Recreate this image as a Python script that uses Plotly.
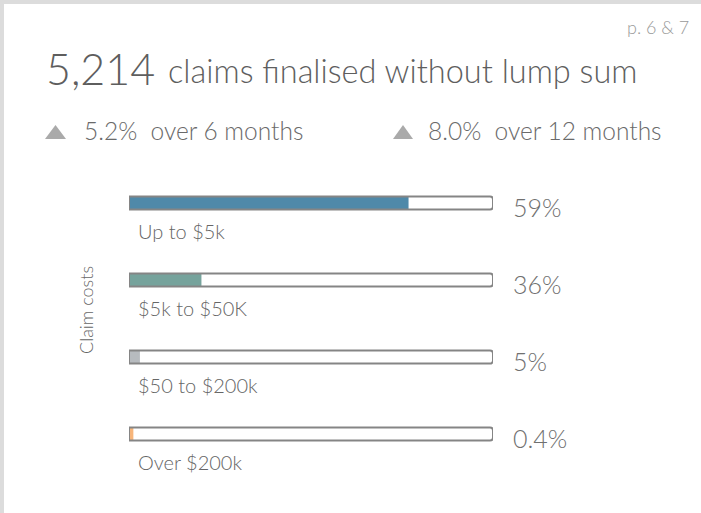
import plotly.graph_objects as go

W, H = 701, 513

# ---- data ----
categories = ["Up to $5k", "$5k to $50K", "$50 to $200k", "Over $200k"]
fill_share = [0.768, 0.199, 0.030, 0.012]   # bar fill as drawn
pct_labels = ["59%", "36%", "5%", "0.4%"]
bar_colors = ["#4f89a9", "#76a39c", "#b7bbbf", "#f7b57a"]
headline_value = "5,214"
headline_text = "claims finalised without lump sum"
change_labels = ["5.2%\u00a0\u00a0over 6 months", "8.0%\u00a0\u00a0over 12 months"]
page_ref = "p. 6 & 7"
axis_title = "Claim costs"

FONT = "Lato Light, Lato"
idx = list(range(len(categories)))


def px(x):
    return x / W


def py(y):
    return 1 - y / H


fig = go.Figure()
# coloured fills
fig.add_trace(go.Bar(
    y=idx, x=fill_share, orientation="h", width=0.17,
    marker=dict(color=bar_colors, line=dict(width=0)),
    hoverinfo="skip", showlegend=False,
))
# outlined tracks
fig.add_trace(go.Bar(
    y=idx, x=[1] * len(idx), orientation="h", width=0.17,
    marker=dict(color="rgba(0,0,0,0)", line=dict(color="#858585", width=2),
                cornerradius=3),
    hoverinfo="skip", showlegend=False,
))

# bar area in pixels
x0, x1 = 129, 493
yc0, yc3 = 203, 434
step = (yc3 - yc0) / 3
top = yc0 - step / 2
bot = yc3 + step / 2


def tri(xl, xr, yb, yt):
    xm = (xl + xr) / 2
    return (f"M {px(xl)} {py(yb)} L {px(xr)} {py(yb)} L {px(xm)} {py(yt)} Z")


shapes = [dict(type="rect", xref="paper", yref="paper", x0=px(4), x1=1.01, y0=-0.01, y1=py(4),
               fillcolor="white", line=dict(width=0), layer="below")]
for xl, xr in [(45, 66), (393, 413)]:
    shapes.append(dict(type="path", xref="paper", yref="paper", path=tri(xl, xr, 139, 125),
                       fillcolor="#aaaaaa", line=dict(width=0)))

fig.update_layout(
    width=W, height=H, margin=dict(l=0, r=0, t=0, b=0),
    paper_bgcolor="#dcdcdc", plot_bgcolor="rgba(0,0,0,0)",
    barmode="overlay",
    xaxis=dict(domain=[px(x0), px(x1)], range=[0, 1], visible=False, fixedrange=True),
    yaxis=dict(domain=[py(bot), py(top)], range=[3.5, -0.5], visible=False, fixedrange=True),
    font=dict(family=FONT, color="#666"),
    shapes=shapes,
)

ann = []
ann.append(dict(text=page_ref, x=px(691), y=py(27), xanchor="right", yanchor="middle",
                font=dict(size=18, color="#9a9a9a", weight=300)))
ann.append(dict(text=headline_value, x=px(44), y=py(68), xanchor="left", yanchor="middle",
                font=dict(size=43, color="#5e5e5e", weight=300)))
ann.append(dict(text=headline_text, x=px(166), y=py(71), xanchor="left", yanchor="middle",
                font=dict(size=32.5, color="#5e5e5e", weight=300)))
txt_x = [82, 426]
for lx, lab in zip(txt_x, change_labels):
    ann.append(dict(text=lab, x=px(lx), y=py(131), xanchor="left", yanchor="middle",
                    font=dict(size=24.5, color="#6a6a6a", weight=300)))
for i, (cat, pl) in enumerate(zip(categories, pct_labels)):
    ann.append(dict(text=pl, xref="x", yref="y", x=1.0, xshift=18, y=i, yshift=-4,
                    xanchor="left", yanchor="middle",
                    font=dict(size=25, color="#707070", weight=300)))
    ann.append(dict(text=cat, xref="x", yref="y", x=0.0, xshift=7, y=i, yshift=-28,
                    xanchor="left", yanchor="middle",
                    font=dict(size=20, color="#666", weight=300)))
ann.append(dict(text=axis_title, x=px(86), y=py(310), xanchor="center", yanchor="middle",
                textangle=-90, font=dict(size=18, color="#666", weight=300)))
for a in ann:
    a.setdefault("xref", "paper")
    a.setdefault("yref", "paper")
    a["showarrow"] = False
fig.update_layout(annotations=ann)

fig.write_html("out.html")
